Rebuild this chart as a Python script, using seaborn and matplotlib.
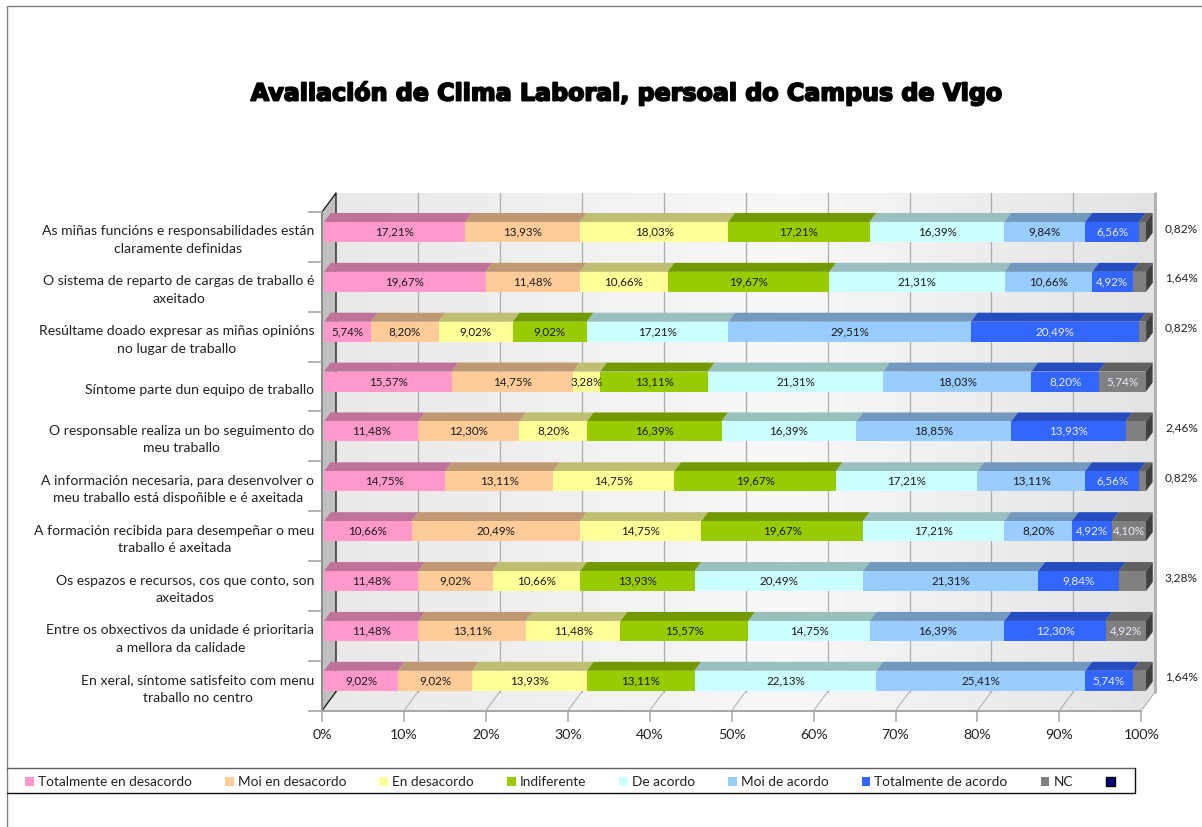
import numpy as np
import pandas as pd
import matplotlib
matplotlib.use("Agg")
import matplotlib.pyplot as plt
import matplotlib.patheffects as pe
from matplotlib.patches import Polygon, Patch
from matplotlib.transforms import Affine2D
import seaborn as sns

categories = [
    "As miñas funcións e responsabilidades están\nclaramente definidas",
    "O sistema de reparto de cargas de traballo é\naxeitado",
    "Resúltame doado expresar as miñas opinións\nno lugar de traballo",
    "Síntome parte dun equipo de traballo",
    "O responsable realiza un bo seguimento do\nmeu traballo",
    "A información necesaria, para desenvolver o\nmeu traballo está dispoñible e é axeitada",
    "A formación recibida para desempeñar o meu\ntraballo é axeitada",
    "Os espazos e recursos, cos que conto, son\naxeitados",
    "Entre os obxectivos da unidade é prioritaria\na mellora da calidade",
    "En xeral, síntome satisfeito com menu\ntraballo no centro",
]
series = ["Totalmente en desacordo", "Moi en desacordo", "En desacordo", "Indiferente",
          "De acordo", "Moi de acordo", "Totalmente de acordo", "NC"]
totalmente_desacordo = [17.21, 19.67, 5.74, 15.57, 11.48, 14.75, 10.66, 11.48, 11.48, 9.02]
moi_desacordo = [13.93, 11.48, 8.20, 14.75, 12.30, 13.11, 20.49, 9.02, 13.11, 9.02]
en_desacordo = [18.03, 10.66, 9.02, 3.28, 8.20, 14.75, 14.75, 10.66, 11.48, 13.93]
indiferente = [17.21, 19.67, 9.02, 13.11, 16.39, 19.67, 19.67, 13.93, 15.57, 13.11]
de_acordo = [16.39, 21.31, 17.21, 21.31, 16.39, 17.21, 17.21, 20.49, 14.75, 22.13]
moi_acordo = [9.84, 10.66, 29.51, 18.03, 18.85, 13.11, 8.20, 21.31, 16.39, 25.41]
totalmente_acordo = [6.56, 4.92, 20.49, 8.20, 13.93, 6.56, 4.92, 9.84, 12.30, 5.74]
nc = [0.82, 1.64, 0.82, 5.74, 2.46, 0.82, 4.10, 3.28, 4.92, 1.64]
colors = ["#FF99CC", "#FFCC99", "#FFFF99", "#99CC00", "#CCFFFF", "#99CCFF", "#3366FF", "#808080"]
extra_colour = "#000080"
title = "Avaliación de Clima Laboral, persoal do Campus de Vigo"

all_values = [totalmente_desacordo, moi_desacordo, en_desacordo, indiferente,
              de_acordo, moi_acordo, totalmente_acordo, nc]
rows = []
for name, vals in zip(series, all_values):
    for i, v in enumerate(vals):
        rows.append({"row": i, "serie": name, "value": v})
df = pd.DataFrame(rows)

sns.set_theme(style="white")
plt.rcParams["font.family"] = ["Lato", "DejaVu Sans"]
W, H = 1202, 827
fig = plt.figure(figsize=(W / 100, H / 100), dpi=100, facecolor="white")

# pixel-space canvas for the chart chrome
bg = fig.add_axes([0, 0, 1, 1], zorder=0)
bg.set_xlim(0, W); bg.set_ylim(H, 0); bg.axis("off")

X0, X1, YT, YB = 322, 1141.3, 212, 710.7
DX, DY = 14, 19
# page frame and legend box
bg.plot([6.5, 6.5, W], [H, 5.5, 5.5], color="#808080", lw=1)
bg.plot([7, 1135], [768, 768], color="#606060", lw=1)
bg.plot([7, 1135, 1135], [793, 793, 768], color="#111111", lw=1)

# walls
grad = np.interp(np.linspace(0, 1, 256), [0, 0.55, 1], [0.91, 0.97, 0.89])
grad = grad[None, :]
im = bg.imshow(grad, cmap="gray", vmin=0, vmax=1, aspect="auto",
               extent=[X0 + DX, X1 + DX, YB - DY, YT - DY], zorder=1)
im2 = bg.imshow(grad, cmap="gray", vmin=0, vmax=1, aspect="auto",
                extent=[X0, X1 + DX, YB, YB - DY], zorder=1)
floor = Polygon([(X0, YB), (X1, YB), (X1 + DX, YB - DY), (X0 + DX, YB - DY)],
                closed=True, transform=bg.transData, fc="none", ec="none")
bg.add_patch(floor)
im2.set_clip_path(floor)
bg.set_xlim(0, W); bg.set_ylim(H, 0)
bg.add_patch(Polygon([(X0, YT), (X0 + DX, YT - DY), (X0 + DX, YB - DY), (X0, YB)],
                     closed=True, fc="#C0C0C0", ec="none", zorder=1.5))
for k in range(11):
    x = X0 + k * (X1 - X0) / 10
    if k > 0:
        bg.plot([x + DX] * 2, [YT - DY, YB - DY], color="#ABABAB", lw=0.9, zorder=2)
        bg.plot([x, x + DX], [YB, YB - DY], color="#A0A0A0", lw=0.6, zorder=2)
bg.plot([X1 + DX] * 2, [YT - DY, YB - DY], color="#B0B0B0", lw=2, zorder=2.1)
bg.plot([X0, X0 + DX, X0 + DX], [YT, YT - DY, YB - DY], color="#111111", lw=0.9, zorder=2.2)
bg.plot([X0, X0 + DX], [YB, YB - DY], color="#111111", lw=0.9, zorder=2.2)
bg.plot([X0, X0], [YT, YB], color="#8C8C8C", lw=1.4, zorder=2.2)

# front plane axes holding the data
ax = fig.add_axes([X0 / W, 1 - YB / H, (X1 - X0) / W, (YB - YT) / H], zorder=1)
ax.patch.set_alpha(0)
sns.histplot(data=df, y="row", hue="serie", hue_order=series[::-1], weights="value",
             multiple="stack", discrete=True, shrink=0.4, palette=dict(zip(series, colors)),
             edgecolor="none", linewidth=0, alpha=1, legend=False, ax=ax)
ax.set_xlim(0, 100)
ax.set_ylim(9.5, -0.5)
ax.set_xlabel(""); ax.set_ylabel("")
ax.set_xticks(np.arange(0, 101, 10))
ax.set_xticklabels([f"{v}%" for v in range(0, 101, 10)], fontsize=10.2, color="#222222")
ax.set_yticks(range(10))
ax.set_yticklabels(categories, fontsize=10.1, color="#222222", multialignment="center",
                   linespacing=1.55)
ax.set_yticks(np.arange(-0.5, 10), minor=True)
ax.tick_params(axis="y", which="major", length=0, pad=5.5)
ax.tick_params(axis="y", which="minor", length=10, width=1.2, color="#A6A6A6", left=True)
ax.tick_params(axis="x", which="major", length=8, width=1.1, color="#A6A6A6", bottom=True, pad=5)
for lab in ax.get_yticklabels():
    shift = 0.5 if "\n" in lab.get_text() else -2.5
    lab.set_transform(lab.get_transform() + Affine2D().translate(0, shift))
sns.despine(ax=ax, left=True, top=True, right=True)
ax.spines["bottom"].set_color("#A6A6A6")
ax.spines["bottom"].set_linewidth(1.4)

# extrude the seaborn bars: shift/scale the front face and add the depth faces
fig.canvas.draw()
bar_tf = Affine2D().translate(-X0, 0).scale(822 / (X1 - X0), 1).translate(324, 5)
bd = 6.7, 9
full = ax.transData + bar_tf
def shade(c, f):
    return tuple(np.array(matplotlib.colors.to_rgb(c)) * f)
segments = []
for p in list(ax.patches):
    x, y, w, h = p.get_x(), p.get_y(), p.get_width(), p.get_height()
    if w <= 0:
        continue
    p.set_transform(full)
    p.set_clip_on(False)
    p.set_antialiased(True)
    segments.append((x, y, w, h, p.get_facecolor()))
for x, y, w, h, fc in segments:
    (xa, yt) = full.transform((x, y))
    (xb, yb) = full.transform((x + w, y + h))
    ytop = max(yt, yb)
    top = Polygon([(xa, ytop), (xb, ytop), (xb + bd[0], ytop + bd[1]), (xa + bd[0], ytop + bd[1])],
                  closed=True, transform=None, fc=shade(fc[:3], 0.75), ec="none")
    fig.add_artist(top)
    top.set_zorder(3)
    if x + w > 99.9:
        ybot = min(yt, yb)
        side = Polygon([(xb, ytop), (xb + bd[0], ytop + bd[1]), (xb + bd[0], ybot + bd[1]), (xb, ybot)],
                       closed=True, transform=None, fc="#404040", ec="none")
        fig.add_artist(side)
        side.set_zorder(3)
ax.set_zorder(4)

# value labels
def fmt(v):
    return f"{v:.2f}%".replace(".", ",")
data = np.array(all_values)
for i in range(10):
    left = 0
    for j in range(8):
        v = data[j, i]
        cx = left + v / 2
        left += v
        if j == 7 and v < 4:
            ax.text(104.9, i - 0.17, fmt(v), fontsize=8.6, color="#222222",
                    ha="center", va="center", clip_on=False)
            continue
        col = "#E8ECFF" if j >= 6 else "#1a1a1a"
        ax.text(cx, i, fmt(v), fontsize=8.4, color=col, ha="center", va="center",
                transform=full, clip_on=False, zorder=6)

# title
fig.text(626 / W, 1 - 92.8 / H, title, fontsize=17.1, fontweight="bold", family="DejaVu Sans",
         color="#000000", ha="center", va="center",
         path_effects=[pe.withStroke(linewidth=1.3, foreground="#000000")])

# legend
handles = [Patch(fc=c, ec="none") for c in colors] + [Patch(fc=extra_colour, ec="black", lw=1)]
labels = series + [" "]
leg = fig.legend(handles, labels, ncol=9, frameon=False, loc="center left",
                 bbox_to_anchor=(18 / W, 1 - 782 / H), bbox_transform=fig.transFigure,
                 fontsize=9.8, handlelength=0.65, handleheight=0.65, handletextpad=0.3,
                 columnspacing=2.42, borderpad=0, labelcolor="#222222")

fig.savefig("out.png", dpi=100, facecolor="white")
